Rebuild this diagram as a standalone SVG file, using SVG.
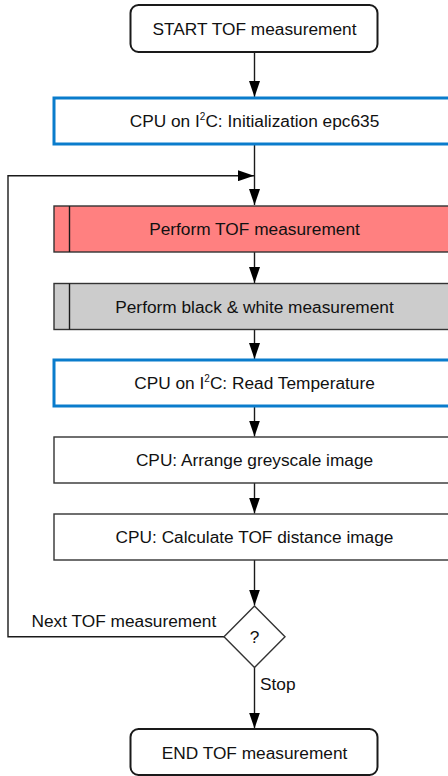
<svg xmlns="http://www.w3.org/2000/svg" width="448" height="776" viewBox="0 0 448 776">
<style>
text{font-family:"Liberation Sans",Arial,sans-serif;font-size:17.3px;fill:#111}
.c{text-anchor:middle}
.term{fill:#fff;stroke:#1a1a1a;stroke-width:2}
.box{fill:#fff;stroke:#333;stroke-width:1.4}
.blue{fill:#fff;stroke:#0a7ccc;stroke-width:3}
.red{fill:#ff8080;stroke:#333;stroke-width:1.4}
.grey{fill:#cccccc;stroke:#333;stroke-width:1.4}
.ln{fill:none;stroke:#1a1a1a;stroke-width:1.4}
.conn{fill:none;stroke:#1a1a1a;stroke-width:1.4;marker-end:url(#ah)}
</style>
<defs>
<marker id="ah" viewBox="0 0 16 11" refX="16" refY="5.5" markerWidth="16" markerHeight="11" markerUnits="userSpaceOnUse" orient="auto">
<path d="M0,0 L16,5.5 L0,11 Z" fill="#000"/>
</marker>
</defs>
<g id="connectors">
<line class="conn" x1="254.5" y1="52" x2="254.5" y2="97"/>
<line class="conn" x1="254.5" y1="144" x2="254.5" y2="205"/>
<path class="conn" d="M224,636.7 H8 V175.7 H254"/>
<line class="conn" x1="254.5" y1="252" x2="254.5" y2="283"/>
<line class="conn" x1="254.5" y1="329.5" x2="254.5" y2="359"/>
<line class="conn" x1="254.5" y1="406" x2="254.5" y2="436.5"/>
<line class="conn" x1="254.5" y1="483" x2="254.5" y2="513.5"/>
<line class="conn" x1="254.5" y1="560" x2="254.5" y2="605.5"/>
<line class="conn" x1="254.5" y1="667.5" x2="254.5" y2="728.5"/>
<text x="31.5" y="626.5">Next TOF measurement</text>
<text x="260" y="690">Stop</text>
</g>
<g id="start">
<rect class="term" x="130.5" y="5" width="247" height="47" rx="8"/>
<text class="c" x="254.5" y="35">START TOF measurement</text>
</g>
<g id="init">
<rect class="blue" x="54" y="98" width="404" height="46"/>
<text class="c" x="254.5" y="127">CPU on I<tspan font-size="10" dy="-7">2</tspan><tspan dy="7">C: Initialization epc635</tspan></text>
</g>
<g id="tof">
<rect class="red" x="54" y="206" width="404" height="46"/>
<line class="ln" x1="69.5" y1="206" x2="69.5" y2="252"/>
<text class="c" x="254.5" y="235">Perform TOF measurement</text>
</g>
<g id="bw">
<rect class="grey" x="54" y="283.5" width="404" height="46"/>
<line class="ln" x1="69.5" y1="283.5" x2="69.5" y2="329.5"/>
<text class="c" x="254.5" y="312.5">Perform black &amp; white measurement</text>
</g>
<g id="temp">
<rect class="blue" x="54" y="360" width="404" height="46"/>
<text class="c" x="254.5" y="389">CPU on I<tspan font-size="10" dy="-7">2</tspan><tspan dy="7">C: Read Temperature</tspan></text>
</g>
<g id="arrange">
<rect class="box" x="54" y="437" width="404" height="46"/>
<text class="c" x="254.5" y="466">CPU: Arrange greyscale image</text>
</g>
<g id="calc">
<rect class="box" x="54" y="514" width="404" height="46"/>
<text class="c" x="254.5" y="543">CPU: Calculate TOF distance image</text>
</g>
<g id="decision">
<polygon class="box" points="254.5,606 285,636.7 254.5,667.4 224,636.7"/>
<text class="c" x="254.5" y="643">?</text>
</g>
<g id="end">
<rect class="term" x="130.5" y="729" width="247" height="46" rx="8"/>
<text class="c" x="254.5" y="758.5">END TOF measurement</text>
</g>
</svg>
